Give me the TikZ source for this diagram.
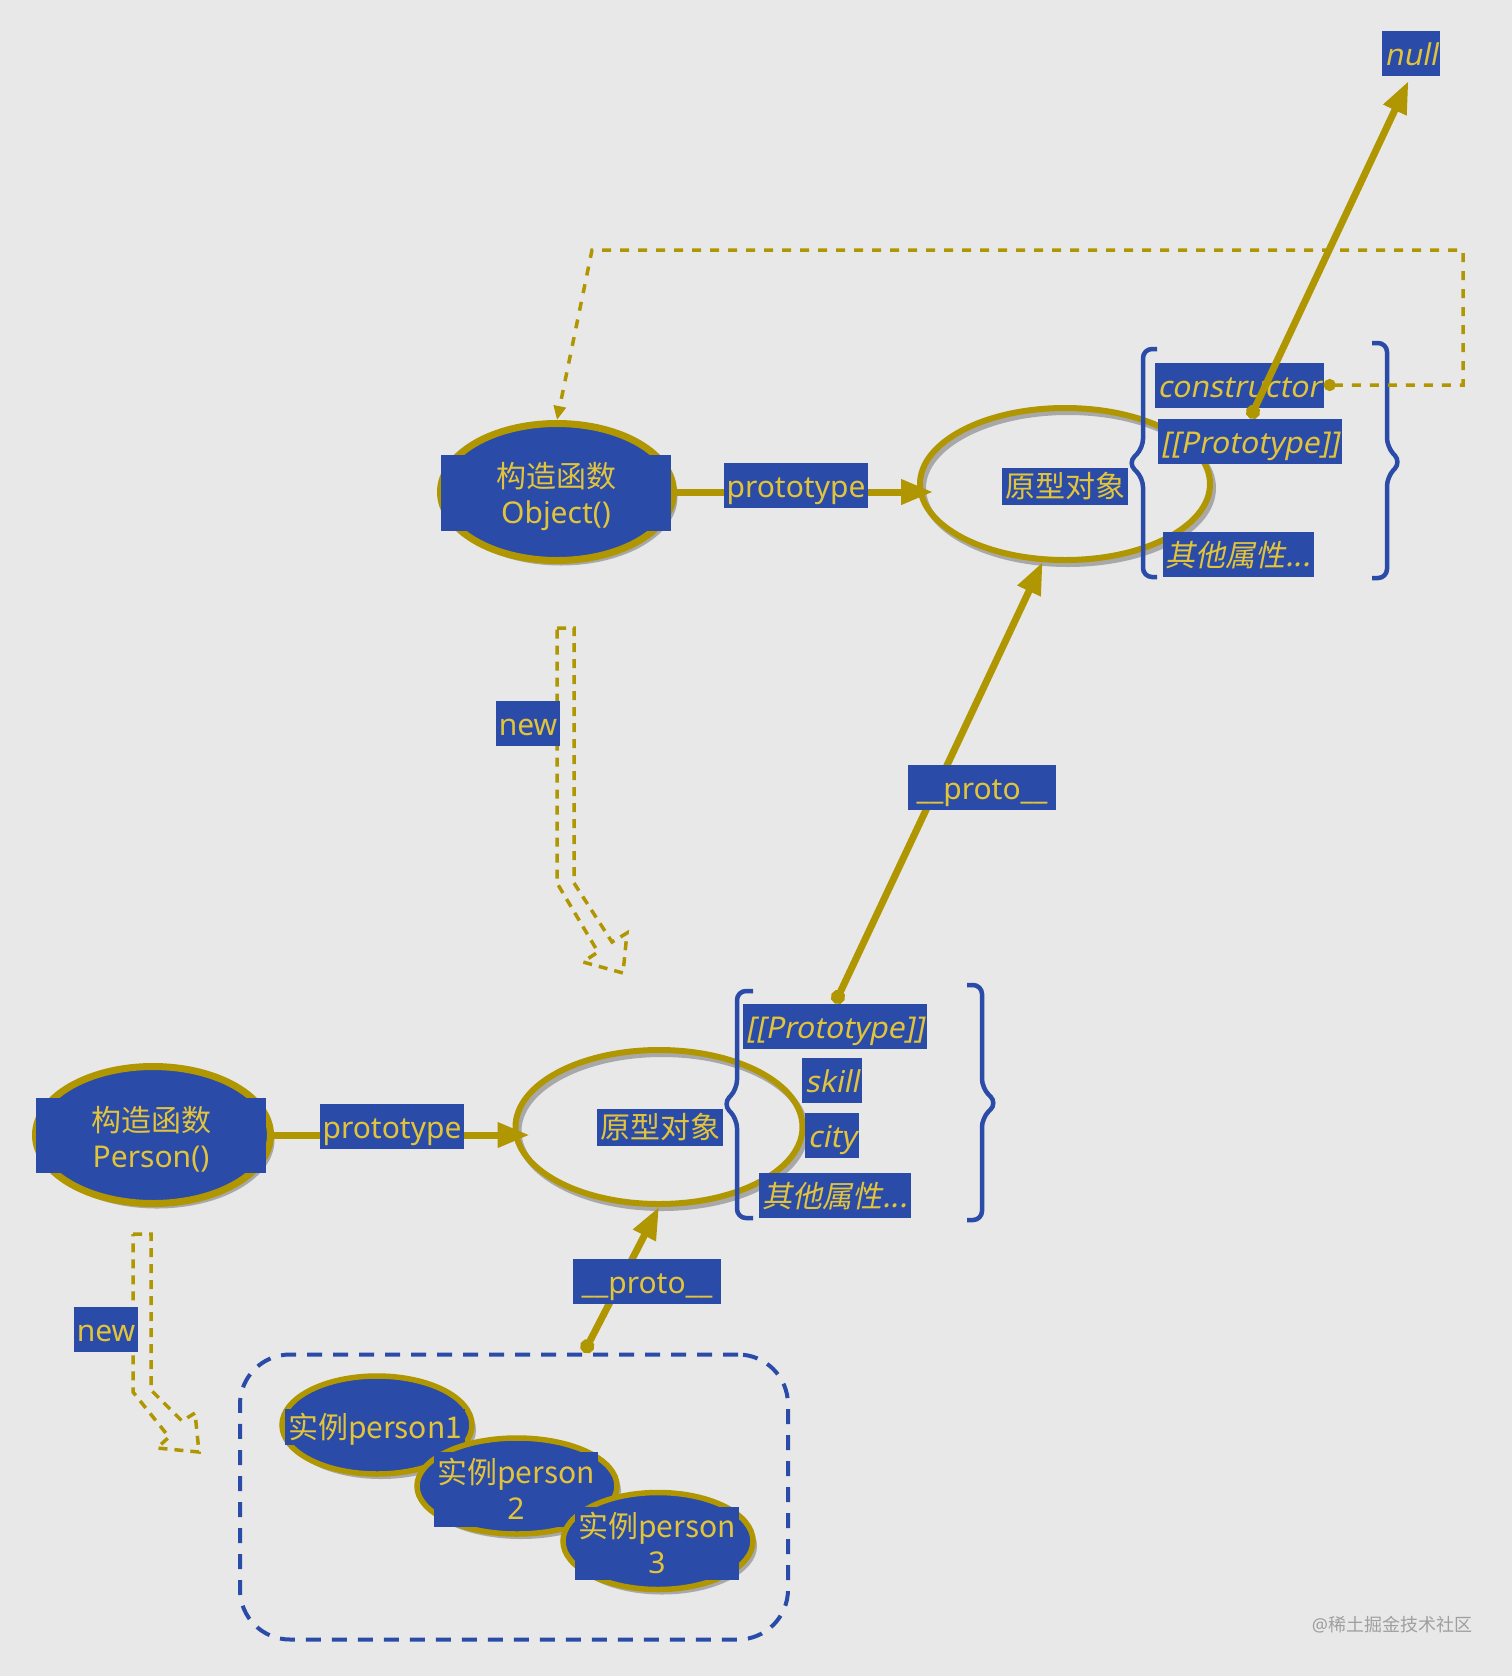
\documentclass[tikz,border=0pt]{standalone}
\usepackage{fontspec}
\setmainfont{Noto Sans}
\newfontfamily\cjk{Noto Sans CJK SC}
\newfontfamily\itfont{Noto Sans}[FakeSlant=0.2]
\newfontfamily\itcjk{Noto Sans CJK SC}[FakeSlant=0.2]
\usetikzlibrary{arrows.meta, positioning, shapes.geometric, shadows, calc}

\definecolor{bgray}{HTML}{E8E8E8}
\definecolor{boxblue}{HTML}{2A4BA8}
\definecolor{linegold}{HTML}{B09600}
\definecolor{textgold}{HTML}{E2C43A}
\definecolor{shadegray}{HTML}{A8A8A8}
\newcommand{\lblfont}{\fontsize{30}{36}\selectfont}
\newcommand{\firstline}{\rule{0pt}{33pt}}

\begin{document}
\begin{tikzpicture}[x=1pt, y=-1pt,
    fnnode/.style={ellipse, draw=linegold, line width=7pt, fill=boxblue, inner sep=0pt,
        general shadow={fill=shadegray, shadow xshift=4pt, shadow yshift=-5pt}},
    protonode/.style={ellipse, draw=linegold, line width=6pt, inner sep=0pt,
        general shadow={draw=shadegray, line width=6pt, shadow xshift=3pt, shadow yshift=-4pt}},
    lbl/.style={fill=boxblue, text=textgold, inner xsep=3pt, font=\lblfont},
    oneline/.style={text height=27pt, text depth=3pt, inner ysep=7.5pt},
    flatline/.style={text height=26pt, text depth=4pt, inner ysep=3.5pt},
    twoline/.style={align=center, inner ysep=0pt},
    link/.style={draw=linegold, line width=7pt, -{Triangle[length=32pt,width=24pt]}},
    dotlink/.style={link, {Circle[length=14pt]}-{Triangle[length=32pt,width=24pt]}},
    hollow/.style={draw=linegold, line width=3.5pt, dash pattern=on 9pt off 7pt, line join=miter},
    brace/.style={draw=boxblue, line width=4.5pt, rounded corners=9pt}
]

\fill[bgray] (0,0) rectangle (1512,1676);
\useasboundingbox (0,0) rectangle (1512,1676);

% new arrows
\draw[hollow] (557,628) -- (574,628) -- (574,883) -- (612,942) -- (627,933) -- (623,973) -- (583,962) -- (598,952) -- (557,883) -- cycle;
\draw[hollow] (133,1234) -- (151,1234) -- (151,1390) -- (182,1421) -- (195,1413) -- (199,1452) -- (157,1448) -- (169,1437) -- (133,1392) -- cycle;

% instances group
\node[draw=boxblue, line width=4pt, dash pattern=on 15pt off 11pt, rounded corners=50pt,
    minimum width=548pt, minimum height=285pt] (group) at (514,1497) {};

% Object
\node[fnnode, minimum width=233pt, minimum height=137pt] (objfn) at (557,492) {};
\node[lbl, twoline, minimum width=230pt, minimum height=75pt] (objfntxt) at (556,493) {\firstline\cjk{构造函数}\\Object()};
\node[protonode, minimum width=290pt, minimum height=152pt] (protoUp) at (1065,484) {};
\node[lbl, flatline] (protoUptxt) at (1065,486) {\cjk{原型对象}};

% Person
\node[fnnode, minimum width=235pt, minimum height=137pt] (personfn) at (153,1135) {};
\node[lbl, twoline, minimum width=230pt, minimum height=75pt] (personfntxt) at (151,1135) {\firstline\cjk{构造函数}\\Person()};
\node[protonode, minimum width=287pt, minimum height=154pt] (protoLow) at (659,1127) {};
\node[lbl, flatline] (protoLowtxt) at (660,1127) {\cjk{原型对象}};

% instances
\node[fnnode, line width=5.5pt, minimum width=190pt, minimum height=98pt] (p1) at (377,1425) {};
\node[lbl, flatline, inner ysep=3pt] (p1txt) at (375,1427) {\cjk{实例}person1};
\node[fnnode, line width=5.5pt, minimum width=200pt, minimum height=96pt] (p2) at (517,1486) {};
\node[lbl, twoline, minimum width=162pt, minimum height=75pt] (p2txt) at (516,1489) {\cjk{实例}person\\2};
\node[fnnode, line width=5.5pt, minimum width=190pt, minimum height=97pt] (p3) at (658,1541) {};
\node[lbl, twoline, minimum width=161pt, minimum height=73pt] (p3txt) at (657,1543) {\cjk{实例}person\\3};

% braces
\draw[brace] (1157,349) -- (1143,349) -- (1143,448) -- (1128,463) -- (1143,478) -- (1143,577) -- (1157,577);
\draw[brace] (1372,343) -- (1387,343) -- (1387,447) -- (1401,462) -- (1387,477) -- (1387,578) -- (1372,578);
\draw[brace] (753,991) -- (737,991) -- (737,1089) -- (723,1104) -- (737,1119) -- (737,1218) -- (753,1218);
\draw[brace] (967,985) -- (982,985) -- (982,1088) -- (997,1103) -- (982,1118) -- (982,1220) -- (967,1220);

% members
\node[lbl, oneline] (ctor) at (1239,385) {\itfont constructor};
\node[lbl, oneline] (ptA) at (1250,441) {\itfont [[Prototype]]};
\node[lbl, oneline] (otherA) at (1238,554) {\itcjk 其他属性...};
\node[lbl, oneline] (null) at (1411,53) {\itfont null};
\node[lbl, oneline] (ptB) at (835,1026) {\itfont [[Prototype]]};
\node[lbl, oneline] (skill) at (832,1080) {\itfont skill};
\node[lbl, oneline] (city) at (832,1135) {\itfont city};
\node[lbl, oneline] (otherB) at (835,1195) {\itcjk 其他属性...};

% links
\draw[link, shorten >=-16pt] (objfn.east) -- (objfn.east -| protoUp.west);
\draw[link, shorten >=-17pt] (personfn.east) -- (personfn.east -| protoLow.west);
\draw[dotlink] (ptB.north) -- (protoUp.254);
\draw[dotlink] ($(group.north)+(70,0)$) -- (protoLow.south);
\draw[dotlink, shorten >=6pt] (ptA.north) -- (null.south);

\coordinate (loopR) at (1463,250);
\coordinate (loopL) at (592,250);
\draw[draw=linegold, line width=3.5pt, dash pattern=on 9pt off 9pt,
    {Circle[length=12pt]}-{Triangle[length=14pt,width=12pt]}] (ctor.east) -| (loopR) -- (loopL) -- (objfn.north);

% labels
\node[lbl, oneline] (protolblA) at (796,485) {prototype};
\node[lbl, oneline] (protolblB) at (392,1126) {prototype};
\node[lbl, oneline, minimum width=148pt] (dunderA) at (982,787) {\_\_proto\_\_};
\node[lbl, oneline, minimum width=148pt] (dunderB) at (647,1281) {\_\_proto\_\_};
\node[lbl, oneline] (newA) at (528,723) {new};
\node[lbl, oneline] (newB) at (106,1329) {new};

\node[text=gray!75, font=\fontsize{18}{20}\selectfont, inner sep=0pt] (mark) at (1392,1625) {@\cjk{稀土掘金技术社区}};

\end{tikzpicture}
\end{document}
